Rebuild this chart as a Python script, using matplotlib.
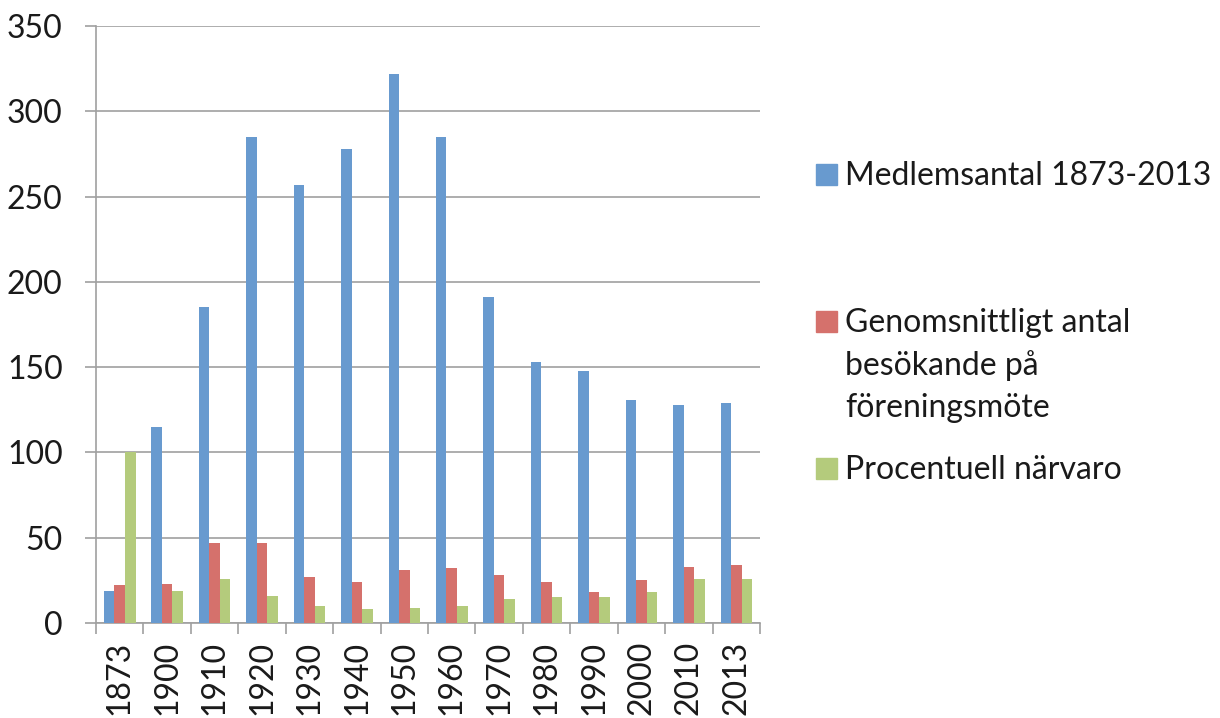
import numpy as np
import matplotlib
matplotlib.use('Agg')
import matplotlib.pyplot as plt
from matplotlib.patches import Rectangle

# data
years = ['1873', '1900', '1910', '1920', '1930', '1940', '1950',
         '1960', '1970', '1980', '1990', '2000', '2010', '2013']
members = [19, 115, 185, 285, 257, 278, 322, 285, 191, 153, 148, 131, 128, 129]
visitors = [22, 23, 47, 47, 27, 24, 31, 32, 28, 24, 18, 25, 33, 34]
attendance = [100, 19, 26, 16, 10, 8, 9, 10, 14, 15, 15, 18, 26, 26]
labels = ['Medlemsantal 1873-2013',
          'Genomsnittligt antal\nbesökande på\nföreningsmöte',
          'Procentuell närvaro']
colors = ['#689ACF', '#D5716C', '#B4CB7C']

plt.rcParams['font.family'] = ['Lato', 'DejaVu Sans']

fig = plt.figure(figsize=(12.2, 7.18), dpi=100)
ax = fig.add_axes([0.0787, 0.1323, 0.5443, 0.8315])

x = np.arange(len(years))
w = 0.222
for i, vals in enumerate([members, visitors, attendance]):
    ax.bar(x + (i - 1) * w, vals, width=w, color=colors[i], zorder=3,
           edgecolor='none')

ax.set_xlim(-0.5, len(years) - 0.5)
ax.set_ylim(0, 350)
ax.set_yticks(range(0, 351, 50))
ax.yaxis.grid(True, color='#A0A0A0', linewidth=1.2, zorder=0)
ax.tick_params(axis='y', length=8, width=1.2, color='#A0A0A0', pad=16,
               labelsize=23, labelcolor='#1a1a1a')

# category boundaries as major ticks, labels on minor ticks
ax.set_xticks(np.arange(-0.5, len(years), 1))
ax.set_xticklabels([])
ax.set_xticks(x, minor=True)
ax.set_xticklabels(years, minor=True, rotation=90)
ax.tick_params(axis='x', which='major', length=8, width=1.2, color='#A0A0A0')
ax.tick_params(axis='x', which='minor', length=0, pad=13, labelsize=23,
               labelcolor='#1a1a1a')

for s in ['top', 'right']:
    ax.spines[s].set_visible(False)
for s in ['left', 'bottom']:
    ax.spines[s].set_color('#A0A0A0')
    ax.spines[s].set_linewidth(1.2)

# legend drawn by hand so the square sits on the first line
leg_y = [174, 321, 468]
for c, lab, yy in zip(colors, labels, leg_y):
    fig.add_artist(Rectangle((816 / 1220, 1 - (yy + 11) / 718), 21 / 1220,
                             21 / 718, transform=fig.transFigure,
                             color=c))
    fig.text(845 / 1220, 1 - (yy - 13) / 718, lab, fontsize=23,
             color='#1a1a1a', va='top', ha='left', linespacing=1.5,
             transform=fig.transFigure)

fig.savefig('out.png', dpi=100)
